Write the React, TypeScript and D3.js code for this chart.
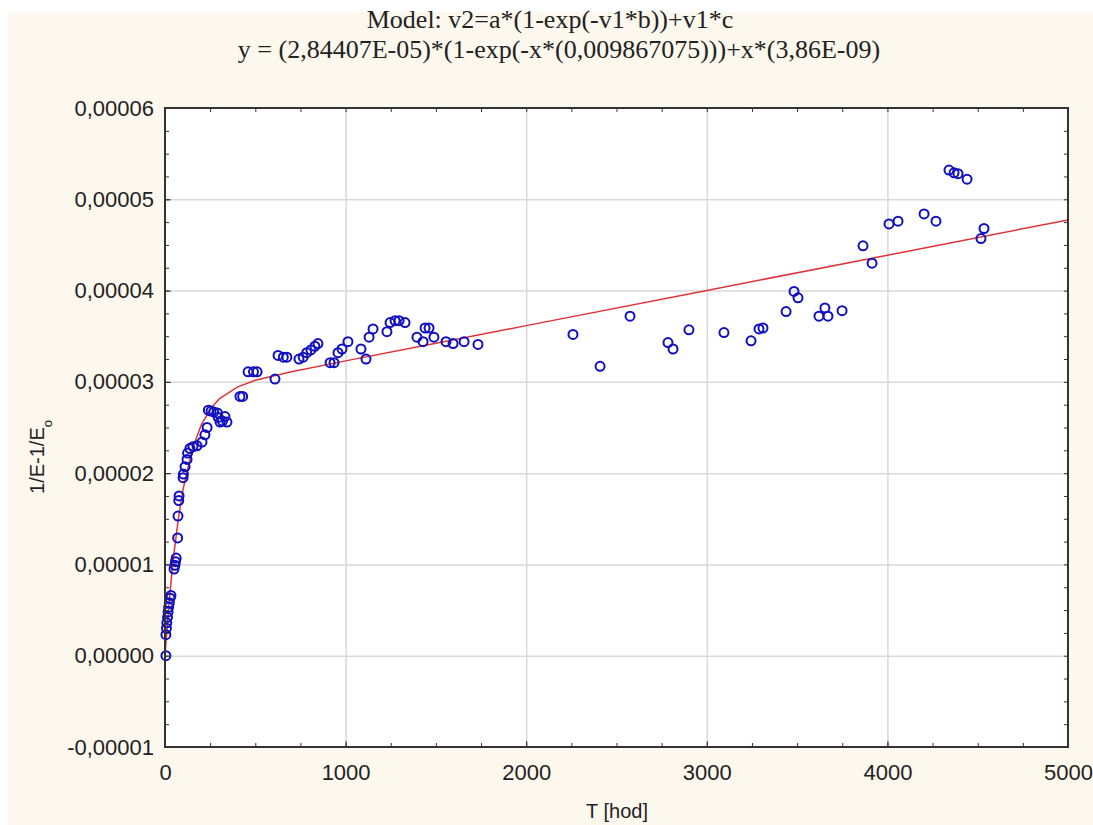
import * as React from 'react';
import * as d3 from 'd3';

// measured points: time [h] and 1/E - 1/E0
const tHours = [
  5, 5, 8, 10, 14, 17, 20, 24, 28, 33,
  50, 55, 58, 62, 70, 72, 76, 78,
  100, 102, 111, 122, 125, 138, 155, 177, 205, 221, 233,
  240, 255, 270, 290, 295, 305, 318, 332, 343,
  415, 430, 460, 490, 510, 609, 626, 655, 675, 742, 765, 785, 808, 830, 847,
  914, 936, 958, 980, 1013, 1085, 1113, 1130, 1152, 1229, 1246, 1274, 1296, 1329,
  1395, 1429, 1440, 1462, 1489, 1556, 1595, 1656, 1733,
  2259, 2409, 2575, 2785, 2813, 2901, 3095, 3245, 3289, 3311, 3439, 3483, 3505,
  3621, 3654, 3671, 3749, 3865, 3915, 4009, 4059, 4203, 4269, 4341, 4369, 4391, 4441,
  4518, 4535,
];
const deltaInvE = [
  0, 2.3e-6, 3.0e-6, 3.6e-6, 4.2e-6, 4.8e-6, 5.3e-6, 5.8e-6, 6.3e-6, 6.6e-6,
  9.5e-6, 9.9e-6, 1.03e-5, 1.07e-5, 1.29e-5, 1.53e-5, 1.70e-5, 1.75e-5,
  1.95e-5, 1.99e-5, 2.07e-5, 2.15e-5, 2.22e-5, 2.27e-5, 2.29e-5, 2.30e-5, 2.34e-5, 2.42e-5, 2.50e-5,
  2.69e-5, 2.68e-5, 2.67e-5, 2.66e-5, 2.61e-5, 2.56e-5, 2.57e-5, 2.62e-5, 2.56e-5,
  2.84e-5, 2.84e-5, 3.11e-5, 3.11e-5, 3.11e-5, 3.03e-5, 3.29e-5, 3.27e-5, 3.27e-5, 3.25e-5, 3.27e-5, 3.32e-5, 3.35e-5, 3.39e-5, 3.42e-5,
  3.21e-5, 3.21e-5, 3.32e-5, 3.36e-5, 3.44e-5, 3.36e-5, 3.25e-5, 3.49e-5, 3.58e-5, 3.55e-5, 3.65e-5, 3.67e-5, 3.67e-5, 3.65e-5,
  3.49e-5, 3.44e-5, 3.59e-5, 3.59e-5, 3.49e-5, 3.44e-5, 3.42e-5, 3.44e-5, 3.41e-5,
  3.52e-5, 3.17e-5, 3.72e-5, 3.43e-5, 3.36e-5, 3.57e-5, 3.54e-5, 3.45e-5, 3.58e-5, 3.59e-5, 3.77e-5, 3.99e-5, 3.92e-5,
  3.72e-5, 3.81e-5, 3.72e-5, 3.78e-5, 4.49e-5, 4.30e-5, 4.73e-5, 4.76e-5, 4.84e-5, 4.76e-5, 5.32e-5, 5.29e-5, 5.28e-5, 5.22e-5,
  4.57e-5, 4.68e-5,
];

// fitted model curve
const fitT = [0, 10, 25, 35, 50, 75, 100, 150, 200, 250, 300, 400, 500, 700, 1000, 1500, 2000, 3000, 4000, 5000];
const fitY = [0, 2.71e-6, 6.31e-6, 8.44e-6, 1.127e-5, 1.516e-5, 1.822e-5, 2.255e-5, 2.526e-5, 2.699e-5,
  2.813e-5, 2.943e-5, 3.017e-5, 3.111e-5, 3.230e-5, 3.423e-5, 3.616e-5, 4.002e-5, 4.388e-5, 4.774e-5];

const xTicks = [0, 1000, 2000, 3000, 4000, 5000];
const yTicks = [-0.00001, 0, 0.00001, 0.00002, 0.00003, 0.00004, 0.00005, 0.00006];

const titleLines = [
  'Model: v2=a*(1-exp(-v1*b))+v1*c',
  'y = (2,84407E-05)*(1-exp(-x*(0,009867075)))+x*(3,86E-09)',
];

export default function App() {
  const ref = React.useRef<SVGSVGElement>(null);

  React.useEffect(() => {
    const svg = d3.select(ref.current);
    svg.selectAll('*').remove();

    const W = 1093, H = 825;
    const margin = { top: 108, right: 25, bottom: 78, left: 165 };
    const width = W - margin.left - margin.right;
    const height = H - margin.top - margin.bottom;
    const sans = 'Arial, "Liberation Sans", sans-serif';
    const serif = '"Times New Roman", "Liberation Serif", serif';

    svg.append('rect').attr('width', W).attr('height', H).attr('fill', '#ffffff');
    svg.append('rect').attr('x', 8).attr('y', 12).attr('width', W - 8).attr('height', H - 12).attr('fill', '#fdf8ee');

    const g = svg.append('g').attr('transform', `translate(${margin.left},${margin.top})`);
    g.append('rect').attr('width', width).attr('height', height).attr('fill', '#ffffff');

    const x = d3.scaleLinear().domain([0, 5000]).range([0, width]);
    const y = d3.scaleLinear().domain([-0.00001, 0.00006]).range([height, 0]);

    const loc = d3.formatLocale({ decimal: ',', thousands: ' ', grouping: [3], currency: ['', ''], minus: '-' });
    const yFmt = loc.format('.5f');

    // grid
    g.append('g')
      .attr('transform', `translate(0,${height})`)
      .call(d3.axisBottom(x).tickValues(xTicks.slice(1, -1)).tickSize(-height).tickFormat(() => ''))
      .call((a) => a.select('.domain').remove())
      .selectAll('line').attr('stroke', '#d9d9d9').attr('stroke-width', 1.5);
    g.append('g')
      .call(d3.axisLeft(y).tickValues(yTicks.slice(1, -1)).tickSize(-width).tickFormat(() => ''))
      .call((a) => a.select('.domain').remove())
      .selectAll('line').attr('stroke', '#d9d9d9').attr('stroke-width', 1.5);

    // fitted curve
    const line = d3.line<number>().x((d, i) => x(fitT[i])).y((d) => y(d));
    g.append('path').datum(fitY).attr('d', line).attr('fill', 'none').attr('stroke', '#e0343a').attr('stroke-width', 1.5);

    // points
    g.selectAll('circle.pt')
      .data(tHours)
      .enter()
      .append('circle')
      .attr('class', 'pt')
      .attr('cx', (d) => x(d))
      .attr('cy', (d, i) => y(deltaInvE[i]))
      .attr('r', 4.5)
      .attr('fill', 'none')
      .attr('stroke', '#1010c0')
      .attr('stroke-width', 2);

    // ticks (inward) on all sides
    const xMinor = d3.range(0, 5001, 250);
    const yMinor = d3.range(-0.00001, 0.0000601, 0.0000025);
    const styleAxis = (a: any) => {
      a.select('.domain').remove();
      a.selectAll('line').attr('stroke', '#333').attr('stroke-width', 1);
    };
    g.append('g').attr('transform', `translate(0,${height})`)
      .call(d3.axisBottom(x).tickValues(xMinor).tickSize(-4).tickFormat(() => '')).call(styleAxis);
    g.append('g')
      .call(d3.axisTop(x).tickValues(xMinor).tickSize(-4).tickFormat(() => '')).call(styleAxis);
    g.append('g')
      .call(d3.axisLeft(y).tickValues(yMinor).tickSize(-4).tickFormat(() => '')).call(styleAxis);
    g.append('g').attr('transform', `translate(${width},0)`)
      .call(d3.axisRight(y).tickValues(yMinor).tickSize(-4).tickFormat(() => '')).call(styleAxis);

    // labelled axes
    const xa = g.append('g').attr('transform', `translate(0,${height})`)
      .call(d3.axisBottom(x).tickValues(xTicks).tickSize(-6).tickPadding(17).tickFormat(d3.format('d')));
    xa.select('.domain').remove();
    xa.selectAll('line').attr('stroke', '#333');
    xa.selectAll('text').attr('font-family', sans).attr('font-size', 22).attr('fill', '#222');

    const ya = g.append('g')
      .call(d3.axisLeft(y).tickValues(yTicks).tickSize(-6).tickPadding(11).tickFormat((d) => yFmt(d as number)));
    ya.select('.domain').remove();
    ya.selectAll('line').attr('stroke', '#333');
    ya.selectAll('text').attr('font-family', sans).attr('font-size', 22).attr('fill', '#222');

    g.append('rect').attr('width', width).attr('height', height)
      .attr('fill', 'none').attr('stroke', '#333').attr('stroke-width', 2);

    // titles
    svg.selectAll('text.title')
      .data(titleLines)
      .enter()
      .append('text')
      .attr('class', 'title')
      .attr('x', (d, i) => (i === 0 ? 550 : 559))
      .attr('y', (d, i) => 28 + i * 30)
      .attr('text-anchor', 'middle')
      .attr('font-family', serif)
      .attr('font-size', 26)
      .attr('fill', '#222')
      .text((d) => d);

    svg.append('text')
      .attr('x', 617).attr('y', 818)
      .attr('text-anchor', 'middle')
      .attr('font-family', sans).attr('font-size', 20).attr('fill', '#222')
      .text('T [hod]');

    const yl = svg.append('text')
      .attr('transform', 'translate(44,457) rotate(-90)')
      .attr('text-anchor', 'middle')
      .attr('font-family', sans).attr('font-size', 20).attr('fill', '#222');
    yl.append('tspan').text('1/E-1/E');
    yl.append('tspan').attr('baseline-shift', 'sub').attr('font-size', 13).text('o');
  }, []);

  return (
    <div id="chart">
      <svg ref={ref} width={1093} height={825} style={{ position: 'absolute', left: 0, top: 0 }} />
    </div>
  );
}
